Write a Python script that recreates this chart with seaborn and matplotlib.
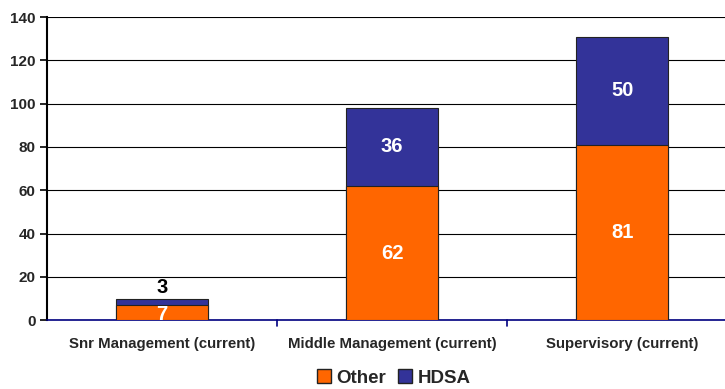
import numpy as np
import pandas as pd
import seaborn as sns
import matplotlib.pyplot as plt
from matplotlib.patches import Patch

categories = ['Snr Management (current)', 'Middle Management (current)', 'Supervisory (current)']
other = [7, 62, 81]
hdsa = [3, 36, 50]

df = pd.DataFrame({'cat': categories, 'Other': other, 'HDSA': hdsa})
df['total'] = df['Other'] + df['HDSA']

sns.set_style('white')
plt.rcParams['font.family'] = ['Liberation Sans', 'DejaVu Sans']
plt.rcParams['font.weight'] = 'bold'

fig = plt.figure(figsize=(7.25, 3.89), dpi=100)
ax = fig.add_axes([0.0648, 0.177, 0.952, 0.779])

orange = '#FF6600'
navy = '#333399'

# stacked bars: total in navy, then Other on top
sns.barplot(data=df, x='cat', y='total', color=navy, width=0.4, saturation=1,
            edgecolor='#222222', linewidth=0.8, ax=ax, zorder=3)
sns.barplot(data=df, x='cat', y='Other', color=orange, width=0.4, saturation=1,
            edgecolor='#222222', linewidth=0.8, ax=ax, zorder=3)

for i, (o, h) in enumerate(zip(other, hdsa)):
    if h < 8:
        ax.text(i, o + h + 0.8, str(h), ha='center', va='bottom', fontsize=14.5,
                fontweight='bold', color='black', zorder=5)
        ax.text(i, o / 2 - 0.8, str(o), ha='center', va='center', fontsize=14.5,
                fontweight='bold', color='white', zorder=5)
    else:
        ax.text(i, o + h / 2, str(h), ha='center', va='center', fontsize=14.5,
                fontweight='bold', color='white', zorder=5)
        ax.text(i, o / 2, str(o), ha='center', va='center', fontsize=14.5,
                fontweight='bold', color='white', zorder=5)

ax.set_xlim(-0.5, 2.5)
ax.set_ylim(0, 140)
ax.set_yticks(np.arange(0, 141, 20))
ax.yaxis.grid(True, color='black', linewidth=0.8)
ax.set_axisbelow(True)
ax.set_xlabel('')
ax.set_ylabel('')

for s in ['top', 'right']:
    ax.spines[s].set_visible(False)
ax.spines['left'].set_color('black')
ax.spines['left'].set_linewidth(1.5)
ax.spines['bottom'].set_color('#000080')
ax.spines['bottom'].set_linewidth(1.2)

ax.tick_params(axis='y', length=5, width=1.2, color='black', left=True, labelsize=11, pad=3)
ax.set_xticks([0, 1, 2])
ax.set_xticklabels(categories, fontsize=10.8, fontweight='bold')
ax.tick_params(axis='x', length=0, pad=12)
for b in [0.5, 1.5]:
    ax.plot([b, b], [0, -2.5], color='#000080', lw=1.2, clip_on=False)
for lab in ax.get_yticklabels():
    lab.set_fontweight('bold')

handles = [Patch(facecolor=orange, edgecolor='#222222', label='Other'),
           Patch(facecolor=navy, edgecolor='#222222', label='HDSA')]
fig.legend(handles=handles, loc='center', bbox_to_anchor=(0.543, 0.028), ncol=2,
           frameon=False, prop={'size': 13.5, 'weight': 'bold'},
           handlelength=0.75, handleheight=0.75, handletextpad=0.3, columnspacing=0.6)

fig.savefig('out.png', dpi=100)
